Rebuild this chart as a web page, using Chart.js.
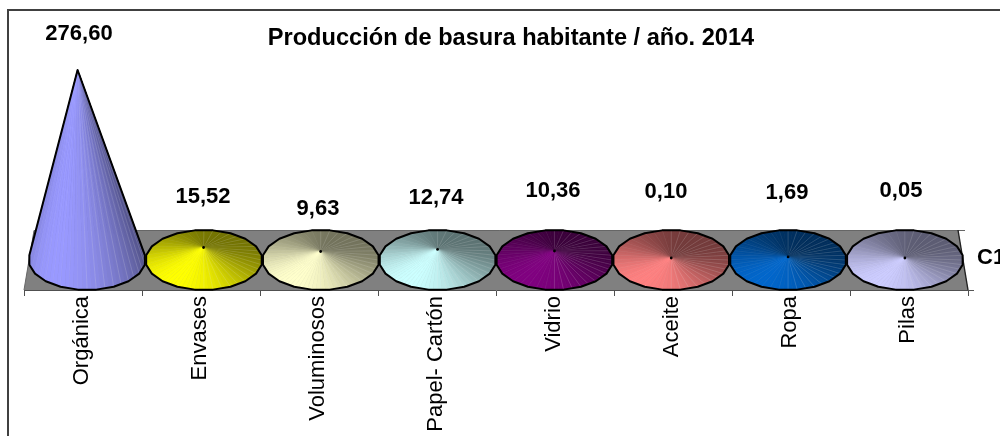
<!DOCTYPE html>
<html>
<head>
<meta charset="utf-8">
<style>html,body{margin:0;padding:0;background:#fff}canvas{display:block}</style>
<script src="https://cdn.jsdelivr.net/npm/chart.js@4"></script>
</head>
<body>
<div style="width:1000px;height:436px;position:relative"><canvas id="c" width="1000" height="436"></canvas></div>
<script>
const categories = ["Orgánica","Envases","Voluminosos","Papel- Cartón","Vidrio","Aceite","Ropa","Pilas"];
const values = [276.60,15.52,9.63,12.74,10.36,0.10,1.69,0.05];
const seriesName = "C1";
const chartTitle = "Producción de basura habitante / año. 2014";
const coneColors = ["#9999ff","#ffff00","#ffffcc","#ccffff","#800080","#ff8080","#0066cc","#ccccff"];
const labelX = [79,203,318,436,553,666,787,901];
const labelY = [34,197,209,198,191,192,193,191];

const FONT = '"Liberation Sans", Arial, sans-serif';
const INK = '#000';

function rgb(hex){return [1,3,5].map(i=>parseInt(hex.substr(i,2),16));}

function cone(ctx,bar,color,chart){
  const area = chart.chartArea;
  const mid = (area.left+area.right)/2;
  const cx = mid+(bar.x-mid)*0.99, cy = 260, rx = 58.5, ry = 30;
  const baseline = bar.base;
  const h = baseline-bar.y;
  const ax = cx+(cx-mid)*h*0.000124, ay = bar.y;
  const N=20, SUB=4, pts=[], hullPts=[];
  const vert=k=>{const t=(9+18*k)*Math.PI/180;return [cx+rx*Math.cos(t),cy+ry*Math.sin(t),t];};
  for(let k=0;k<N;k++){
    const a=vert(k),b=vert(k+1);
    hullPts.push([a[0],a[1]]);
    for(let s=0;s<SUB;s++){const f=s/SUB;pts.push([a[0]+(b[0]-a[0])*f,a[1]+(b[1]-a[1])*f]);}
  }
  const c=rgb(color), lo=0.45;
  const secs=[];
  for(let i=0;i<pts.length;i++){
    const p=pts[i],q=pts[(i+1)%pts.length];
    const mx=(p[0]+q[0])/2-cx,my=((p[1]+q[1])/2-cy)*rx/ry;
    secs.push({p,q,t:Math.atan2(my,mx),d:my,i});
  }
  secs.sort((a,b)=>a.d-b.d);
  const L=125*Math.PI/180;
  ctx.save();
  ctx.lineJoin='round';
  for(const s of secs){
    const sh=lo+(1-lo)*Math.pow((1+Math.cos(s.t-L))/2,1.3);
    const col=`rgb(${c.map(v=>Math.round(v*sh)).join(',')})`;
    ctx.fillStyle=col;ctx.strokeStyle=col;ctx.lineWidth=0.6;
    ctx.beginPath();ctx.moveTo(ax,ay);ctx.lineTo(s.p[0],s.p[1]);ctx.lineTo(s.q[0],s.q[1]);ctx.closePath();ctx.fill();ctx.stroke();
    if(s.i%2===0 && (ay>cy-ry || s.d>=0)){
      ctx.strokeStyle='rgba(255,255,255,0.2)';ctx.lineWidth=0.7;
      ctx.beginPath();ctx.moveTo(ax,ay);ctx.lineTo(s.p[0],s.p[1]);ctx.stroke();
    }
  }
  // outline: convex hull of base polygon and apex
  const all=hullPts.concat([[ax,ay]]).sort((a,b)=>a[0]-b[0]||a[1]-b[1]);
  const cross=(o,a,b)=>(a[0]-o[0])*(b[1]-o[1])-(a[1]-o[1])*(b[0]-o[0]);
  const lower=[],upper=[];
  for(const p of all){while(lower.length>1&&cross(lower[lower.length-2],lower[lower.length-1],p)<=0)lower.pop();lower.push(p);}
  for(const p of all.slice().reverse()){while(upper.length>1&&cross(upper[upper.length-2],upper[upper.length-1],p)<=0)upper.pop();upper.push(p);}
  const hull=lower.slice(0,-1).concat(upper.slice(0,-1));
  ctx.strokeStyle=INK;ctx.lineWidth=2;
  ctx.beginPath();hull.forEach((p,i)=>i?ctx.lineTo(p[0],p[1]):ctx.moveTo(p[0],p[1]));ctx.closePath();ctx.stroke();
  if(ay>cy-ry){ctx.fillStyle=INK;ctx.beginPath();ctx.arc(ax,ay,1.4,0,Math.PI*2);ctx.fill();}
  ctx.restore();
}

const conePlugin = {
  id:'cones',
  beforeDatasetsDraw(chart){
    const ctx=chart.ctx,a=chart.chartArea;
    ctx.save();
    // frame
    ctx.strokeStyle='#404040';ctx.lineWidth=2;
    ctx.beginPath();ctx.moveTo(8,436);ctx.lineTo(8,10);ctx.lineTo(1000,10);ctx.stroke();
    // floor
    ctx.fillStyle='#808080';
    ctx.beginPath();ctx.moveTo(a.left,a.bottom);ctx.lineTo(a.left+10,230);ctx.lineTo(a.right-10,230);ctx.lineTo(a.right,a.bottom);ctx.closePath();ctx.fill();
    ctx.strokeStyle='#666';ctx.lineWidth=1;
    ctx.beginPath();ctx.moveTo(a.left,a.bottom);ctx.lineTo(a.left+10,230.5);ctx.lineTo(a.right-3,230.5);ctx.stroke();
    ctx.strokeStyle='#222';ctx.lineWidth=1.4;
    ctx.beginPath();ctx.moveTo(a.right-10,230);ctx.lineTo(a.right,a.bottom);ctx.stroke();
    ctx.strokeStyle='#555';ctx.lineWidth=1;
    ctx.beginPath();ctx.moveTo(a.right,a.bottom+0.5);ctx.lineTo(a.right+6,a.bottom+0.5);ctx.stroke();
    ctx.restore();
  },
  beforeDatasetDraw(chart,args){
    const ctx=chart.ctx;
    args.meta.data.forEach((bar,i)=>cone(ctx,bar,coneColors[i],chart));
    return false;
  },
  afterDatasetsDraw(chart){
    const ctx=chart.ctx;
    ctx.save();
    ctx.fillStyle=INK;ctx.textAlign='center';ctx.textBaseline='middle';
    ctx.font='bold 23.6px '+FONT;
    ctx.fillText(chartTitle,511,38);
    ctx.font='bold 22px '+FONT;
    values.forEach((v,i)=>ctx.fillText(v.toFixed(2).replace('.',','),labelX[i],labelY[i]));
    ctx.textAlign='left';
    ctx.fillText(seriesName,977,258);
    ctx.restore();
  }
};

new Chart(document.getElementById('c'),{
  type:'bar',
  data:{labels:categories,datasets:[{label:seriesName,data:values,backgroundColor:coneColors,borderWidth:0,categoryPercentage:1,barPercentage:1}]},
  plugins:[conePlugin],
  options:{
    responsive:false,animation:false,devicePixelRatio:1,
    layout:{padding:{left:24,right:32,top:70,bottom:0}},
    plugins:{legend:{display:false},title:{display:false},tooltip:{enabled:false}},
    scales:{
      y:{display:false,min:-47,max:276.6},
      x:{
        offset:true,
        afterFit(s){s.height=146;},
        border:{display:true,color:'#505050',width:1},
        grid:{display:true,drawOnChartArea:false,drawTicks:true,tickLength:6,color:'#505050',offset:true},
        ticks:{autoSkip:false,minRotation:90,maxRotation:90,padding:0,labelOffset:-1.5,color:'#000',font:{family:FONT,size:22}}
      }
    }
  }
});
</script>
</body>
</html>
